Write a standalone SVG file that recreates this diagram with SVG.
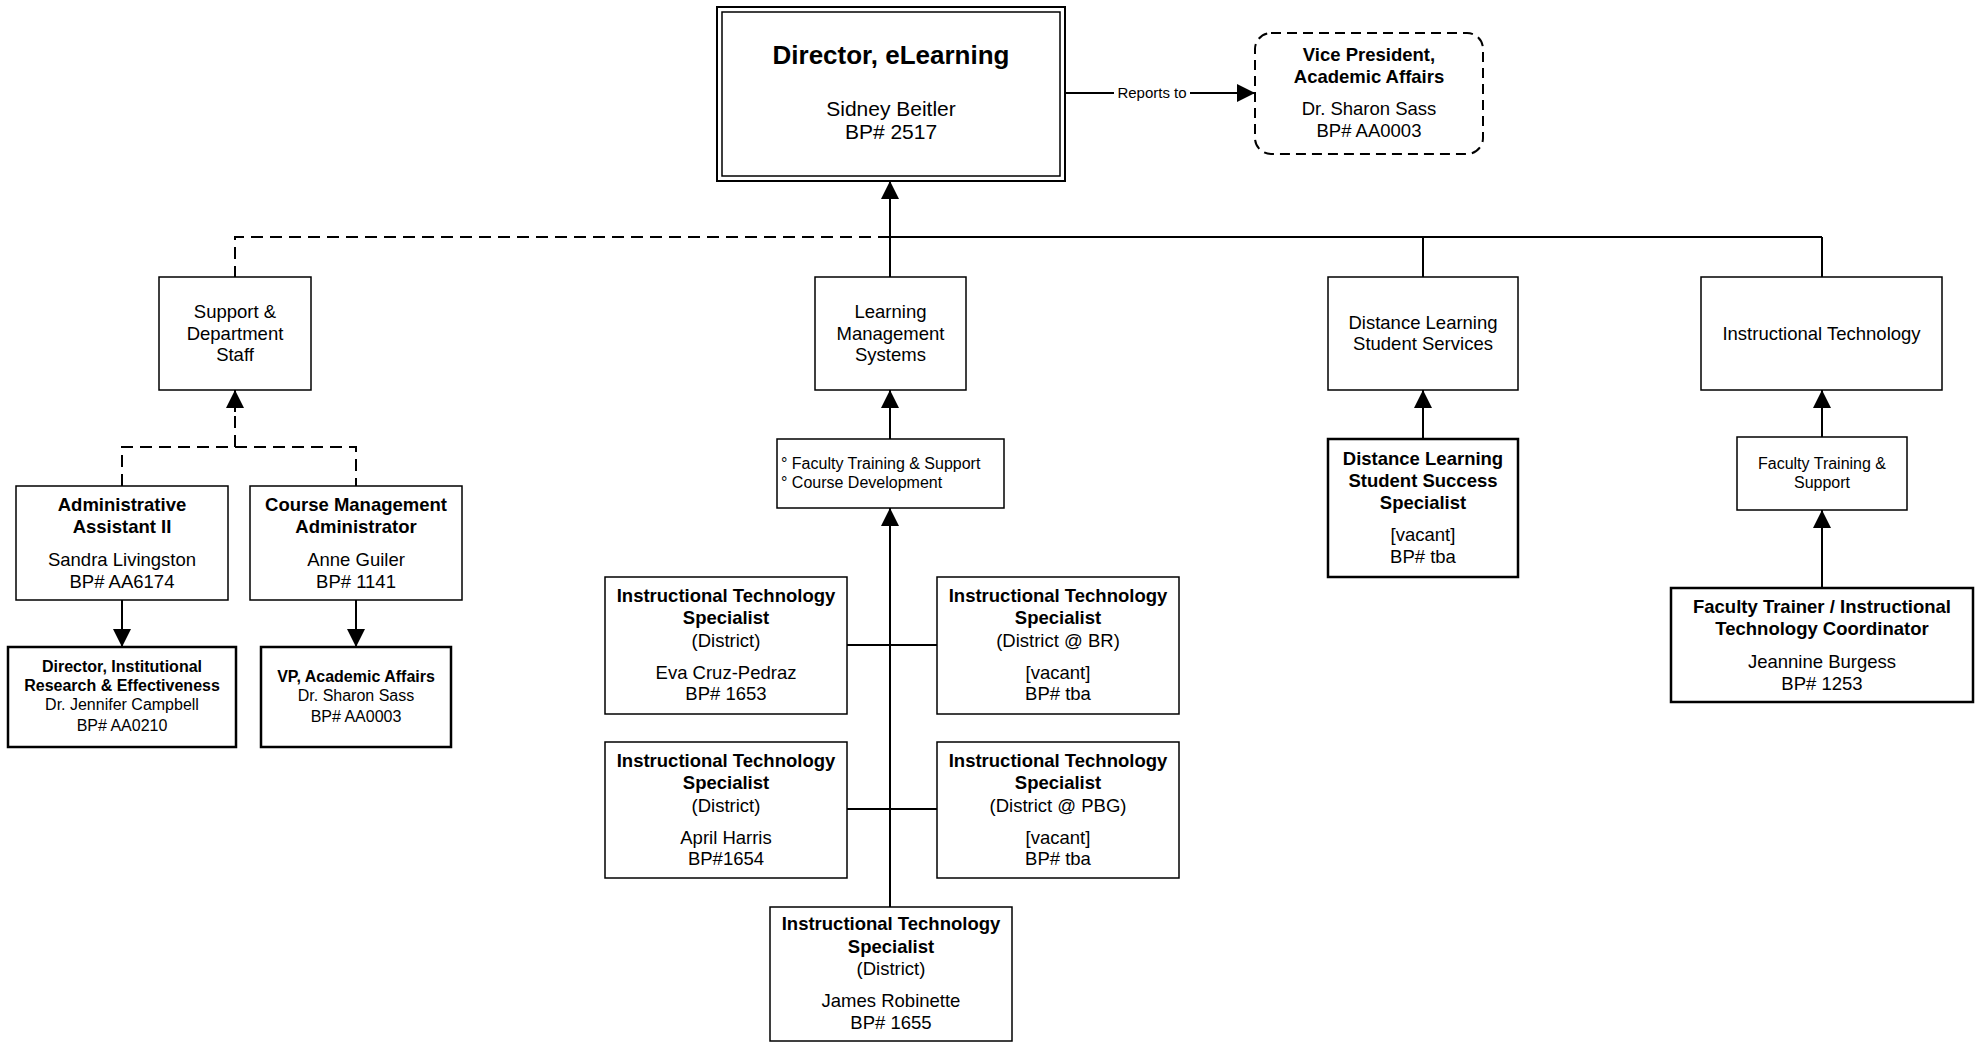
<svg xmlns="http://www.w3.org/2000/svg" width="1982" height="1042" viewBox="0 0 1982 1042">
<style>
.bg{fill:#fff}
.box{fill:#fff;stroke:#000;stroke-width:1.5}
.thick{fill:#fff;stroke:#000;stroke-width:2.5}
.conn{stroke:#000;stroke-width:2;fill:none}
.dash{stroke-dasharray:12 7}
text{font-family:"Liberation Sans",Arial,Helvetica,sans-serif;fill:#000;text-anchor:middle}
.b18{font-size:18.5px;font-weight:bold}
.r18{font-size:18.5px}
.b16{font-size:16px;font-weight:bold}
.r16{font-size:16px}
.r15{font-size:15px}
.t26{font-size:26px;font-weight:bold}
.r21{font-size:21px}
.left{text-anchor:start}
</style>
<defs>
<marker id="arr" viewBox="0 0 18 18" refX="18" refY="9" markerWidth="18" markerHeight="18" markerUnits="userSpaceOnUse" orient="auto">
<path d="M0,0 L18,9 L0,18 Z" fill="#000"/>
</marker>
</defs>
<rect class="bg" x="0" y="0" width="1982" height="1042"/>

<g id="connectors">
<!-- trunk up to director -->
<line class="conn" x1="890" y1="277" x2="890" y2="181" marker-end="url(#arr)"/>
<!-- top solid horizontal -->
<line class="conn" x1="890" y1="237" x2="1822" y2="237"/>
<line class="conn" x1="1423" y1="237" x2="1423" y2="277"/>
<line class="conn" x1="1822" y1="237" x2="1822" y2="277"/>
<!-- top dashed to support -->
<polyline class="conn dash" points="890,237 235,237 235,277"/>
<!-- reports to -->
<line class="conn" x1="1065" y1="93" x2="1114" y2="93"/>
<line class="conn" x1="1190" y1="93" x2="1255" y2="93" marker-end="url(#arr)"/>
<!-- support children dashed -->
<polyline class="conn dash" points="122,486 122,447 356,447 356,486"/>
<line class="conn dash" x1="235" y1="447" x2="235" y2="409"/>
<line class="conn" x1="235" y1="412" x2="235" y2="390" marker-end="url(#arr)"/>
<!-- down arrows to external boxes -->
<line class="conn" x1="122" y1="600" x2="122" y2="647" marker-end="url(#arr)"/>
<line class="conn" x1="356" y1="600" x2="356" y2="647" marker-end="url(#arr)"/>
<!-- LMS -->
<line class="conn" x1="890" y1="439" x2="890" y2="390" marker-end="url(#arr)"/>
<line class="conn" x1="890" y1="907" x2="890" y2="508" marker-end="url(#arr)"/>
<line class="conn" x1="847" y1="645" x2="937" y2="645"/>
<line class="conn" x1="847" y1="809" x2="937" y2="809"/>
<!-- Distance -->
<line class="conn" x1="1423" y1="439" x2="1423" y2="390" marker-end="url(#arr)"/>
<!-- IT -->
<line class="conn" x1="1822" y1="437" x2="1822" y2="390" marker-end="url(#arr)"/>
<line class="conn" x1="1822" y1="588" x2="1822" y2="510" marker-end="url(#arr)"/>
<text class="r15" x="1152" y="98">Reports to</text>
</g>

<g id="director">
<rect x="717" y="7" width="348" height="174" fill="#fff" stroke="#000" stroke-width="2"/>
<rect x="722" y="12" width="338" height="164" fill="none" stroke="#000" stroke-width="1.5"/>
<text class="t26" x="891" y="64">Director, eLearning</text>
<text class="r21" x="891" y="116">Sidney Beitler</text>
<text class="r21" x="891" y="139">BP# 2517</text>
</g>

<g id="vp">
<rect x="1255" y="33" width="228" height="121" rx="16" fill="#fff" stroke="#000" stroke-width="2" stroke-dasharray="10 6"/>
<text class="b18" x="1369" y="61">Vice President,</text>
<text class="b18" x="1369" y="83">Academic Affairs</text>
<text class="r18" x="1369" y="115">Dr. Sharon Sass</text>
<text class="r18" x="1369" y="137">BP# AA0003</text>
</g>

<g id="support">
<rect class="box" x="159" y="277" width="152" height="113"/>
<text class="r18" x="235" y="318">Support &amp;</text>
<text class="r18" x="235" y="339.5">Department</text>
<text class="r18" x="235" y="361">Staff</text>
</g>

<g id="lms">
<rect class="box" x="815" y="277" width="151" height="113"/>
<text class="r18" x="890.5" y="318">Learning</text>
<text class="r18" x="890.5" y="339.5">Management</text>
<text class="r18" x="890.5" y="361">Systems</text>
</g>

<g id="distance">
<rect class="box" x="1328" y="277" width="190" height="113"/>
<text class="r18" x="1423" y="328.5">Distance Learning</text>
<text class="r18" x="1423" y="349.5">Student Services</text>
</g>

<g id="it">
<rect class="box" x="1701" y="277" width="241" height="113"/>
<text class="r18" x="1821.5" y="339.5">Instructional Technology</text>
</g>

<g id="admin">
<rect class="box" x="16" y="486" width="212" height="114"/>
<text class="b18" x="122" y="510.5">Administrative</text>
<text class="b18" x="122" y="532.5">Assistant II</text>
<text class="r18" x="122" y="565.5">Sandra Livingston</text>
<text class="r18" x="122" y="587.5">BP# AA6174</text>
</g>

<g id="coursemgmt">
<rect class="box" x="250" y="486" width="212" height="114"/>
<text class="b18" x="356" y="510.5">Course Management</text>
<text class="b18" x="356" y="532.5">Administrator</text>
<text class="r18" x="356" y="565.5">Anne Guiler</text>
<text class="r18" x="356" y="587.5">BP# 1141</text>
</g>

<g id="dir-ire">
<rect class="thick" x="8" y="647" width="228" height="100"/>
<text class="b16" x="122" y="671.5">Director, Institutional</text>
<text class="b16" x="122" y="690.5">Research &amp; Effectiveness</text>
<text class="r16" x="122" y="709.5">Dr. Jennifer Campbell</text>
<text class="r16" x="122" y="730.5">BP# AA0210</text>
</g>

<g id="vp-aa">
<rect class="thick" x="261" y="647" width="190" height="100"/>
<text class="b16" x="356" y="681.5">VP, Academic Affairs</text>
<text class="r16" x="356" y="700.5">Dr. Sharon Sass</text>
<text class="r16" x="356" y="721.5">BP# AA0003</text>
</g>

<g id="lms-list">
<rect class="box" x="777" y="439" width="227" height="69"/>
<text class="r16 left" x="781" y="468.5">° Faculty Training &amp; Support</text>
<text class="r16 left" x="781" y="487.5">° Course Development</text>
</g>

<g id="its1">
<rect class="box" x="605" y="577" width="242" height="137"/>
<text class="b18" x="726" y="601.5">Instructional Technology</text>
<text class="b18" x="726" y="624">Specialist</text>
<text class="r18" x="726" y="646.5">(District)</text>
<text class="r18" x="726" y="678.5">Eva Cruz-Pedraz</text>
<text class="r18" x="726" y="699.5">BP# 1653</text>
</g>

<g id="its2">
<rect class="box" x="937" y="577" width="242" height="137"/>
<text class="b18" x="1058" y="601.5">Instructional Technology</text>
<text class="b18" x="1058" y="624">Specialist</text>
<text class="r18" x="1058" y="646.5">(District @ BR)</text>
<text class="r18" x="1058" y="678.5">[vacant]</text>
<text class="r18" x="1058" y="699.5">BP# tba</text>
</g>

<g id="its3">
<rect class="box" x="605" y="742" width="242" height="136"/>
<text class="b18" x="726" y="766.5">Instructional Technology</text>
<text class="b18" x="726" y="788.5">Specialist</text>
<text class="r18" x="726" y="811.5">(District)</text>
<text class="r18" x="726" y="843.5">April Harris</text>
<text class="r18" x="726" y="864.5">BP#1654</text>
</g>

<g id="its4">
<rect class="box" x="937" y="742" width="242" height="136"/>
<text class="b18" x="1058" y="766.5">Instructional Technology</text>
<text class="b18" x="1058" y="788.5">Specialist</text>
<text class="r18" x="1058" y="811.5">(District @ PBG)</text>
<text class="r18" x="1058" y="843.5">[vacant]</text>
<text class="r18" x="1058" y="864.5">BP# tba</text>
</g>

<g id="its5">
<rect class="box" x="770" y="907" width="242" height="134"/>
<text class="b18" x="891" y="930">Instructional Technology</text>
<text class="b18" x="891" y="952.5">Specialist</text>
<text class="r18" x="891" y="975">(District)</text>
<text class="r18" x="891" y="1007">James Robinette</text>
<text class="r18" x="891" y="1029">BP# 1655</text>
</g>

<g id="dlsss">
<rect class="thick" x="1328" y="439" width="190" height="138"/>
<text class="b18" x="1423" y="464.5">Distance Learning</text>
<text class="b18" x="1423" y="486.5">Student Success</text>
<text class="b18" x="1423" y="509">Specialist</text>
<text class="r18" x="1423" y="541">[vacant]</text>
<text class="r18" x="1423" y="563">BP# tba</text>
</g>

<g id="it-fts">
<rect class="box" x="1737" y="437" width="170" height="73"/>
<text class="r16" x="1822" y="468.5">Faculty Training &amp;</text>
<text class="r16" x="1822" y="487.5">Support</text>
</g>

<g id="trainer">
<rect class="thick" x="1671" y="588" width="302" height="114"/>
<text class="b18" x="1822" y="612.5">Faculty Trainer / Instructional</text>
<text class="b18" x="1822" y="634.5">Technology Coordinator</text>
<text class="r18" x="1822" y="667.5">Jeannine Burgess</text>
<text class="r18" x="1822" y="689.5">BP# 1253</text>
</g>
</svg>
